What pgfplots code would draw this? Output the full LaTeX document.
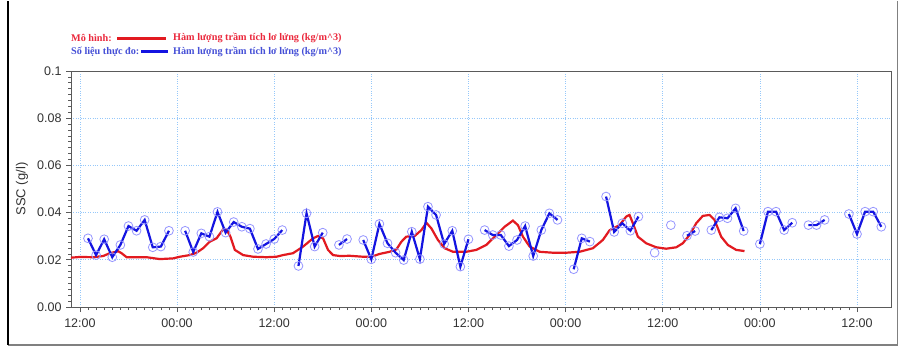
\documentclass[border=0pt]{standalone}
\usepackage{pgfplots}
\pgfplotsset{compat=1.18}
\usepackage{pgfplotstable}
\usepackage{fontspec}
\setmainfont{Liberation Serif}
\newfontfamily\arial{Liberation Sans}
\definecolor{mred}{RGB}{226,26,32}
\definecolor{mblue}{RGB}{20,20,225}
\definecolor{mcirc}{RGB}{150,150,255}
\definecolor{mgrid}{RGB}{150,200,250}
\definecolor{axgray}{RGB}{90,90,90}
\definecolor{ltred}{RGB}{235,40,60}
\definecolor{ltblue}{RGB}{70,80,215}

\pgfplotstableread{
x y
1 0.0291
2 0.0220
3 0.0287
4 0.0211
5 0.0263
6 0.0343
7 0.0323
8 0.0369
9 0.0253
10 0.0256
11 0.0323
12 nan
13 0.0323
14 0.0233
15 0.0312
16 0.0298
17 0.0403
18 0.0315
19 0.0360
20 0.0340
21 0.0332
22 0.0246
23 0.0267
24 0.0288
25 0.0326
26 nan
27 0.0174
28 0.0397
29 0.0256
30 0.0315
31 nan
32 0.0263
33 0.0288
34 nan
35 0.0284
36 0.0202
37 0.0352
38 0.0270
39 0.0230
40 0.0199
41 0.0319
42 0.0203
43 0.0425
44 0.0390
45 0.0267
46 0.0323
47 0.0171
48 0.0287
49 nan
50 0.0326
51 0.0305
52 0.0305
53 0.0258
54 0.0284
55 0.0343
56 0.0216
57 0.0326
58 0.0397
59 0.0369
60 nan
61 0.0160
62 0.0291
63 0.0277
64 nan
65 0.0468
66 0.0318
67 0.0355
68 0.0323
69 0.0383
70 nan
71 0.0230
72 nan
73 0.0347
74 nan
75 0.0302
76 0.0322
77 nan
78 0.0326
79 0.0380
80 0.0376
81 0.0418
82 0.0322
83 nan
84 0.0267
85 0.0404
86 0.0404
87 0.0326
88 0.0357
89 nan
90 0.0347
91 0.0347
92 0.0369
93 nan
95 0.0394
96 0.0309
97 0.0404
98 0.0404
99 0.0340
}\measured

\pgfplotstableread{
x y
-1.11 0.0209
0 0.0212
1.64 0.0211
2.88 0.0216
3.70 0.0228
4.73 0.0236
5.15 0.0228
5.77 0.0211
7.0 0.0211
8.23 0.0211
9.88 0.0203
11.52 0.0206
12.35 0.0213
13.58 0.0220
14.41 0.0230
15.22 0.0249
16.05 0.0277
16.88 0.0291
17.69 0.0329
18.11 0.0329
18.60 0.0298
19.14 0.0242
20.16 0.0220
21.40 0.0213
23.05 0.0211
24.28 0.0213
25.10 0.0220
26.33 0.0228
27.57 0.0256
28.80 0.0291
29.42 0.0301
30.04 0.0291
30.65 0.0242
31.27 0.0220
32.10 0.0216
33.33 0.0217
34.98 0.0213
36.01 0.0213
37.04 0.0225
38.27 0.0234
39.10 0.0244
39.72 0.0277
40.33 0.0298
41.36 0.0301
42.19 0.0326
42.80 0.0357
43.42 0.0333
44.23 0.0284
45.06 0.0249
46.09 0.0234
47.74 0.0234
48.98 0.0242
50.21 0.0263
51.44 0.0305
52.47 0.0340
53.49 0.0366
54.11 0.0347
54.73 0.0298
55.56 0.0256
56.79 0.0234
58.43 0.0230
60.09 0.0230
61.73 0.0234
63.37 0.0249
64.60 0.0284
65.43 0.0325
65.84 0.0333
66.67 0.0347
67.49 0.0383
67.90 0.0390
68.31 0.0355
68.93 0.0298
69.96 0.0270
71.20 0.0253
72.43 0.0247
73.67 0.0253
74.48 0.0270
75.31 0.0305
76.14 0.0355
76.95 0.0386
77.78 0.0390
78.40 0.0369
79.22 0.0298
80.04 0.0263
81.07 0.0242
82.10 0.0237
}\model

\begin{document}
\begin{tikzpicture}[x=1pt,y=1pt]
\useasboundingbox (0,0) rectangle (905,348);
\fill[white] (0,0) rectangle (905,348);
\begin{axis}[
  at={(71pt,41pt)}, anchor=south west,
  scale only axis, width=820pt, height=236pt,
  xmin=-1.1, xmax=100.2, ymin=0, ymax=0.1,
  xtick={0,12,24,36,48,60,72,84,96},
  xticklabels={12:00,00:00,12:00,00:00,12:00,00:00,12:00,00:00,12:00},
  ytick={0,0.02,0.04,0.06,0.08,0.1},
  yticklabels={0.00,0.02,0.04,0.06,0.08,0.1},
  minor x tick num=11, minor y tick num=7,
  tick pos=left, tick align=outside,
  major tick length=5pt, minor tick length=3pt,
  every tick/.style={axgray, line width=0.7pt},
  axis line style={axgray, line width=0.9pt},
  grid=major,
  major grid style={mgrid, dotted, line width=0.7pt},
  ticklabel style={font=\arial\fontsize{12.5}{14}\selectfont, text=black!80},
  ylabel={SSC (g/l)},
  ylabel style={font=\arial\fontsize{13}{15}\selectfont, text=black!80,
    at={(axis description cs:-0.0598,0.5)}, anchor=center},
  yticklabel style={xshift=-1pt},
  xticklabel style={yshift=-3pt},
  unbounded coords=jump,
  clip=false,
]
\addplot[mred, line width=2.2pt, no marks] table[x=x,y=y] {\model};
\addplot[mblue, line width=2.2pt, mark=o, mark size=4.4pt,
  mark options={draw=mcirc, line width=0.8pt, solid}] table[x=x,y=y] {\measured};
\end{axis}
% legend
\node[anchor=west, inner sep=0pt, text=ltred, font=\bfseries\fontsize{10.2}{12}\selectfont] at (71,309.7) {Mô hình:};
\draw[mred, line width=2.5pt] (117,309.7) -- (166,309.7);
\node[anchor=west, inner sep=0pt, text=ltred, font=\bfseries\fontsize{10.2}{12}\selectfont] at (173,309.7) {Hàm lượng trầm tích lơ lửng (kg/m\^{}3)};
\node[anchor=west, inner sep=0pt, text=ltblue, font=\bfseries\fontsize{10.2}{12}\selectfont] at (71,296.3) {Số liệu thực đo:};
\draw[mblue, line width=2.5pt] (141,296.3) -- (168,296.3);
\node[anchor=west, inner sep=0pt, text=ltblue, font=\bfseries\fontsize{10.2}{12}\selectfont] at (173,296.3) {Hàm lượng trầm tích lơ lửng (kg/m\^{}3)};
% outer frame
\draw[gray, line width=1.2pt] (8,3) -- (897.5,3) -- (897.5,346.5);
\draw[black, line width=2pt] (8,346.5) -- (8,3);
\end{tikzpicture}
\end{document}
